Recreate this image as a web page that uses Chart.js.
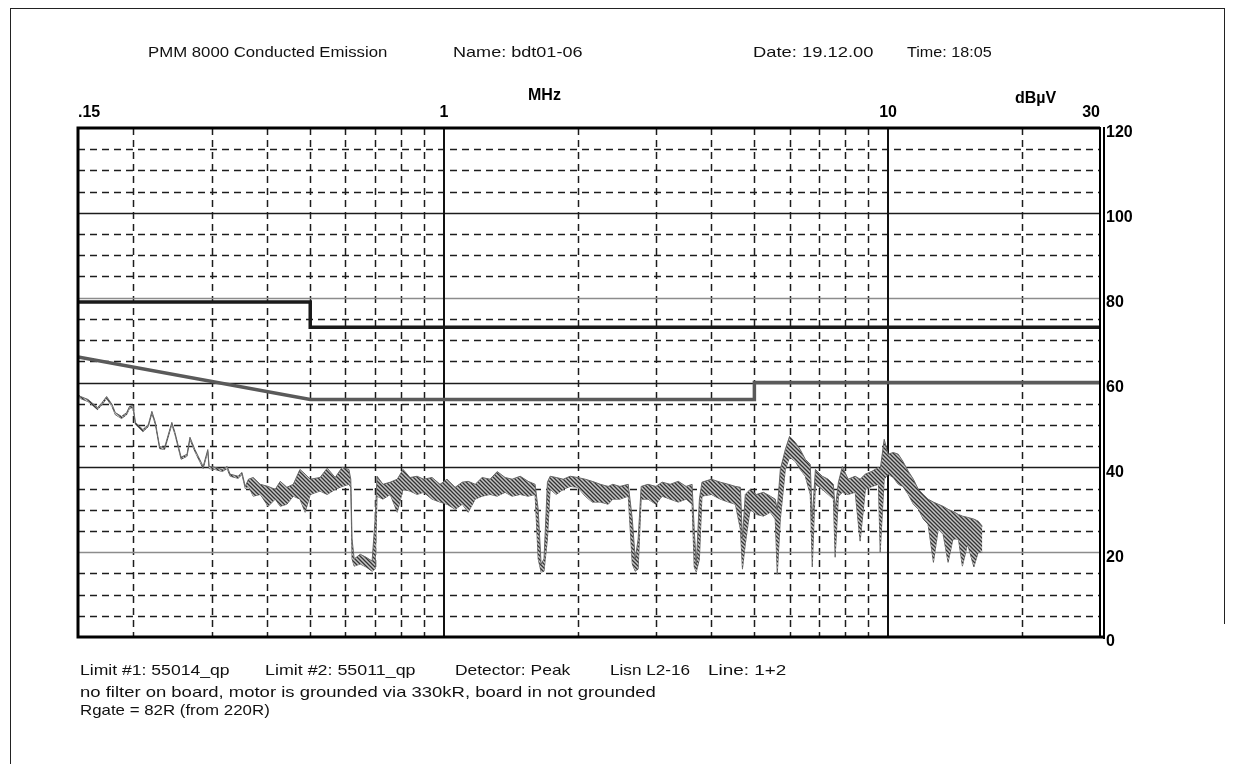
<!DOCTYPE html>
<html>
<head>
<meta charset="utf-8">
<title>PMM 8000 Conducted Emission</title>
<script src="https://cdn.jsdelivr.net/npm/chart.js@4.4.1/dist/chart.umd.min.js"></script>
<style>
  body { margin: 0; background: #fff; }
  #wrap { position: relative; width: 1233px; height: 764px; overflow: hidden; background: #fff; }
  #emi { position: absolute; left: 0; top: 0; }
  .t { position: absolute; font: 15px "Liberation Sans", Arial, sans-serif; color: #111; white-space: nowrap; line-height: 18px; transform-origin: 0 50%; }
  .b { font-weight: bold; font-size: 16px; color: #000; }
  .edge { position: absolute; background: #222; }
</style>
</head>
<body>
<div id="wrap">
  <div class="edge" style="left:10px;top:8px;width:1px;height:756px"></div>
  <div class="edge" style="left:10px;top:8px;width:1215px;height:1px"></div>
  <div class="edge" style="left:1224px;top:8px;width:1px;height:616px"></div>
  <canvas id="emi" width="1233" height="764"></canvas>

  <div class="t" style="left:148px;top:43px" data-w="239">PMM 8000 Conducted Emission</div>
  <div class="t" style="left:453px;top:43px" data-w="130">Name: bdt01-06</div>
  <div class="t" style="left:753px;top:43px" data-w="120">Date: 19.12.00</div>
  <div class="t" style="left:907px;top:43px" data-w="85">Time: 18:05</div>

  <div class="t b" style="left:528px;top:86px">MHz</div>
  <div class="t b" style="left:1015px;top:89px">dBµV</div>

  <div class="t" style="left:80px;top:661px" data-w="150">Limit #1: 55014_qp</div>
  <div class="t" style="left:265px;top:661px" data-w="150">Limit #2: 55011_qp</div>
  <div class="t" style="left:455px;top:661px" data-w="115">Detector: Peak</div>
  <div class="t" style="left:610px;top:661px" data-w="80">Lisn L2-16</div>
  <div class="t" style="left:708px;top:661px" data-w="78">Line: 1+2</div>
  <div class="t" style="left:80px;top:683px" data-w="576">no filter on board, motor is grounded via 330kR, board in not grounded</div>
  <div class="t" style="left:80px;top:701px" data-w="190">Rgate = 82R (from 220R)</div>
</div>

<script>
// frequency axis (MHz) and level axis (dBuV)
const xTickValues = [0.15, 1, 10, 30];
const xTickText = [".15", "1", "10", "30"];
const xGridDashed = [0.2, 0.3, 0.4, 0.5, 0.6, 0.7, 0.8, 0.9, 2, 3, 4, 5, 6, 7, 8, 9, 20];
const xGridSolid = [1, 10];
const yGridDashed = [5, 10, 15, 25, 30, 35, 45, 50, 55, 65, 70, 75, 85, 90, 95, 105, 110, 115];
const yGridSolid = [20, 40, 60, 80, 100];

// Limit #2: 55011_qp
const limit2Freq = [0.15, 0.5, 0.5, 30];
const limit2Level = [79, 79, 73, 73];
// Limit #1: 55014_qp
const limit1Freq = [0.15, 0.5, 5, 5, 30];
const limit1Level = [66, 56, 56, 60, 60];

// peak detector sweep, upper / lower edge of the trace
const traceFreq = [
  0.150, 0.152, 0.158, 0.166, 0.170, 0.174, 0.179, 0.182, 0.188, 0.193,
  0.196, 0.1995, 0.202, 0.210, 0.216, 0.220, 0.224, 0.229, 0.235, 0.244,
  0.248, 0.256, 0.264, 0.268, 0.275, 0.287, 0.294, 0.296, 0.305, 0.317,
  0.325, 0.330, 0.344, 0.351, 0.357,
  0.363, 0.372, 0.386, 0.402, 0.417, 0.428, 0.443, 0.458, 0.474, 0.487,
  0.500, 0.526, 0.546, 0.569, 0.590, 0.611, 0.617, 0.621, 0.628, 0.648,
  0.668, 0.689, 0.700, 0.707, 0.729, 0.757, 0.785, 0.809, 0.839, 0.870,
  0.900, 0.940, 0.980, 1.016, 1.06, 1.10, 1.134, 1.176, 1.219, 1.27,
  1.318, 1.373, 1.424, 1.485, 1.547, 1.604, 1.63, 1.655, 1.68, 1.71,
  1.734, 1.79, 1.856, 1.924, 2.0, 2.08, 2.157, 2.25, 2.343, 2.40,
  2.49, 2.60, 2.655, 2.696, 2.737, 2.78, 2.88, 3.0, 3.10, 3.23,
  3.37, 3.51, 3.62, 3.66, 3.70, 3.76, 3.81, 4.0, 4.19, 4.37,
  4.53, 4.65, 4.70, 4.77, 4.89, 5.05, 5.24, 5.43, 5.57, 5.63,
  5.72, 5.87, 6.0, 6.18, 6.34, 6.51, 6.68, 6.75, 6.86, 7.11,
  7.33, 7.53, 7.6, 7.73, 7.89, 8.13, 8.43, 8.65, 8.89, 9.21,
  9.51, 9.6, 9.80, 10.0, 10.27, 10.54, 10.8, 11.1, 11.4, 11.7,
  12.0, 12.3, 12.65, 12.97, 13.3, 13.65, 14.0, 14.4, 14.7, 15.1,
  15.6, 15.96, 16.3
];
const traceHi = [
  57.2, 56.7, 56.0, 54.1, 55.3, 56.7, 54.8, 52.9, 52.0, 52.9,
  54.4, 54.6, 50.6, 48.9, 50.1, 53.2, 50.6, 44.9, 44.7, 50.6,
  48.2, 42.4, 43.1, 47.1, 44.2, 40.2, 44.2, 40.2, 40.0, 39.5,
  40.2, 38.4, 37.9, 38.8, 35.5,
  37.2, 37.6, 36.0, 35.5, 34.8, 36.7, 35.3, 36.0, 39.5, 38.4,
  37.2, 37.6, 39.8, 37.6, 40.0, 39.5, 37.2, 23.1, 18.4, 19.5,
  18.8, 17.9, 27.8, 37.9, 36.0, 36.5, 37.2, 39.5, 37.6, 37.9,
  37.2, 37.6, 36.0, 37.2, 35.3, 36.5, 36.7, 36.0, 37.6, 37.2,
  39.0, 37.6, 37.2, 37.9, 36.7, 36.0, 30.1, 17.2, 18.4, 36.5,
  37.9, 37.6, 37.2, 37.9, 37.6, 37.2, 36.7, 36.0, 35.5, 36.0,
  35.5, 36.0, 27.8, 18.4, 23.1, 35.5, 36.0, 35.5, 36.5, 36.0,
  36.7, 35.5, 36.0, 25.4, 17.2, 32.5, 36.5, 37.2, 36.5, 36.0,
  35.5, 35.3, 23.1, 33.6, 34.8, 33.6, 34.1, 33.2, 32.5, 30.1,
  39.5, 44.2, 47.3, 45.9, 44.2, 41.9, 40.7, 27.8, 39.5, 37.9,
  37.2, 36.0, 30.1, 36.5, 40.2, 37.2, 37.9, 37.2, 38.4, 39.1,
  40.0, 39.5, 46.6, 43.1, 43.5, 43.1, 41.4, 39.1, 37.2, 34.8,
  33.6, 32.5, 31.8, 31.3, 30.8, 30.1, 29.6, 28.9, 28.5, 28.2,
  27.8, 27.3, 26.1
];
const traceLo = [
  56.7, 56.2, 55.5, 53.6, 54.8, 56.2, 54.3, 52.4, 51.5, 52.4,
  53.9, 54.1, 50.1, 48.4, 49.6, 52.7, 50.1, 44.4, 44.2, 50.1,
  47.7, 41.9, 42.6, 46.6, 43.7, 39.7, 43.7, 39.7, 39.5, 39.0,
  39.7, 37.9, 37.4, 38.3, 35.0,
  35.5, 33.2, 33.6, 30.8, 32.5, 30.8, 31.3, 33.2, 32.5, 29.4,
  33.6, 34.4, 33.6, 34.8, 35.5, 36.0, 35.3, 18.4, 16.7, 17.2,
  16.5, 15.5, 16.0, 33.2, 32.5, 33.6, 29.4, 34.8, 34.4, 33.6,
  34.1, 32.5, 31.8, 31.3, 30.1, 31.3, 29.4, 32.5, 33.2, 33.6,
  33.2, 34.1, 33.2, 33.6, 33.2, 33.6, 18.4, 15.3, 15.5, 23.1,
  34.8, 33.6, 34.8, 35.5, 35.3, 33.2, 31.8, 31.8, 31.3, 32.5,
  32.5, 33.2, 17.2, 15.5, 16.0, 32.5, 32.5, 31.3, 33.2, 32.5,
  31.8, 32.5, 31.3, 16.5, 15.3, 18.4, 33.2, 33.6, 32.5, 31.8,
  31.3, 25.4, 16.0, 21.9, 30.1, 28.9, 28.5, 29.4, 27.8, 14.8,
  27.8, 39.5, 42.4, 41.4, 39.5, 37.9, 33.6, 16.5, 36.0, 34.8,
  33.6, 32.5, 18.8, 33.2, 34.1, 33.6, 34.1, 22.6, 34.8, 35.5,
  36.0, 20.0, 37.2, 38.4, 37.6, 36.0, 35.5, 33.6, 31.3, 30.1,
  27.8, 26.6, 17.6, 25.4, 24.2, 17.6, 23.1, 23.1, 16.7, 21.9,
  16.5, 20.0, 20.0
];

function pts(xs, ys) {
  return xs.map((f, i) => ({ x: f, y: ys[i] }));
}

// diagonal hatch like the plotter print
function hatch() {
  const c = document.createElement("canvas");
  c.width = 4;
  c.height = 4;
  const p = c.getContext("2d");
  p.fillStyle = "#c4c4c4";
  p.fillRect(0, 0, 4, 4);
  p.strokeStyle = "#333";
  p.lineWidth = 1.3;
  p.beginPath();
  p.moveTo(0, 0); p.lineTo(4, 4);
  p.moveTo(-1, 3); p.lineTo(1, 5);
  p.moveTo(3, -1); p.lineTo(5, 1);
  p.stroke();
  return p.createPattern(c, "repeat");
}

const emiGrid = {
  id: "emiGrid",
  beforeDatasetsDraw(chart) {
    const { ctx, chartArea: a, scales } = chart;
    const x = scales.x, y = scales.y;
    ctx.save();
    ctx.lineWidth = 1.5;
    ctx.strokeStyle = "#1c1c1c";
    ctx.setLineDash([7, 5]);
    ctx.beginPath();
    yGridDashed.forEach(v => {
      const py = Math.round(y.getPixelForValue(v)) + 0.5;
      ctx.moveTo(a.left, py); ctx.lineTo(a.right, py);
    });
    xGridDashed.forEach(v => {
      const px = Math.round(x.getPixelForValue(v)) + 0.5;
      ctx.moveTo(px, a.top); ctx.lineTo(px, a.bottom);
    });
    ctx.stroke();
    ctx.setLineDash([]);
    yGridSolid.forEach(v => {
      const py = Math.round(y.getPixelForValue(v)) + 0.5;
      ctx.strokeStyle = (v === 20 || v === 80) ? "#8c8c8c" : "#1c1c1c";
      ctx.beginPath(); ctx.moveTo(a.left, py); ctx.lineTo(a.right, py); ctx.stroke();
    });
    ctx.strokeStyle = "#111";
    ctx.lineWidth = 2;
    xGridSolid.forEach(v => {
      const px = Math.round(x.getPixelForValue(v));
      ctx.beginPath(); ctx.moveTo(px, a.top); ctx.lineTo(px, a.bottom); ctx.stroke();
    });
    ctx.restore();
  },
  afterDraw(chart) {
    const { ctx, chartArea: a } = chart;
    ctx.save();
    ctx.strokeStyle = "#000";
    ctx.lineWidth = 3;
    ctx.beginPath();
    ctx.moveTo(a.right, a.top); ctx.lineTo(a.left, a.top);
    ctx.lineTo(a.left, a.bottom); ctx.lineTo(a.right + 5, a.bottom);
    ctx.stroke();
    ctx.lineWidth = 2;
    ctx.beginPath();
    ctx.moveTo(a.right, a.top - 1); ctx.lineTo(a.right, a.bottom + 1);
    ctx.moveTo(a.right + 4, a.top - 1); ctx.lineTo(a.right + 4, a.bottom + 2);
    ctx.stroke();
    ctx.restore();
  }
};

Chart.defaults.font.family = "'Liberation Sans', Arial, sans-serif";
Chart.defaults.color = "#000";

new Chart(document.getElementById("emi"), {
  type: "line",
  data: {
    datasets: [
      {
        label: "Limit #2: 55011_qp",
        data: pts(limit2Freq, limit2Level),
        borderColor: "#1a1a1a",
        borderWidth: 3.5,
        pointRadius: 0,
        fill: false
      },
      {
        label: "Limit #1: 55014_qp",
        data: pts(limit1Freq, limit1Level),
        borderColor: "#5a5a5a",
        borderWidth: 3.5,
        pointRadius: 0,
        fill: false
      },
      {
        label: "Peak",
        data: pts(traceFreq, traceHi),
        borderColor: "#666",
        borderWidth: 1,
        pointRadius: 0,
        fill: "+1",
        backgroundColor: hatch()
      },
      {
        label: "Peak (lower)",
        data: pts(traceFreq, traceLo),
        borderColor: "#666",
        borderWidth: 1,
        pointRadius: 0,
        fill: false
      }
    ]
  },
  options: {
    responsive: false,
    animation: false,
    layout: { padding: { left: 78, right: 0, top: 0, bottom: 127 } },
    plugins: { legend: { display: false }, tooltip: { enabled: false } },
    scales: {
      x: {
        type: "logarithmic",
        position: "top",
        min: 0.15,
        max: 30,
        grid: { display: false, drawTicks: false },
        border: { display: false },
        afterBuildTicks: s => { s.ticks = xTickValues.map(v => ({ value: v })); },
        afterFit: s => { s.height = 128; },
        ticks: {
          autoSkip: false,
          maxRotation: 0,
          minRotation: 0,
          align: "inner",
          padding: 6,
          font: { size: 16, weight: "bold" },
          callback: v => xTickText[xTickValues.indexOf(v)]
        }
      },
      y: {
        position: "right",
        min: 0,
        max: 120,
        grid: { display: false, drawTicks: false },
        border: { display: false },
        afterFit: s => { s.width = 133; },
        ticks: {
          stepSize: 20,
          padding: 6,
          labelOffset: 5,
          font: { size: 16, weight: "bold" }
        }
      }
    }
  },
  plugins: [emiGrid]
});

document.querySelectorAll(".t[data-w]").forEach(el => {
  const k = +el.dataset.w / el.offsetWidth;
  el.style.transform = "scaleX(" + k.toFixed(3) + ")";
});
</script>
</body>
</html>
